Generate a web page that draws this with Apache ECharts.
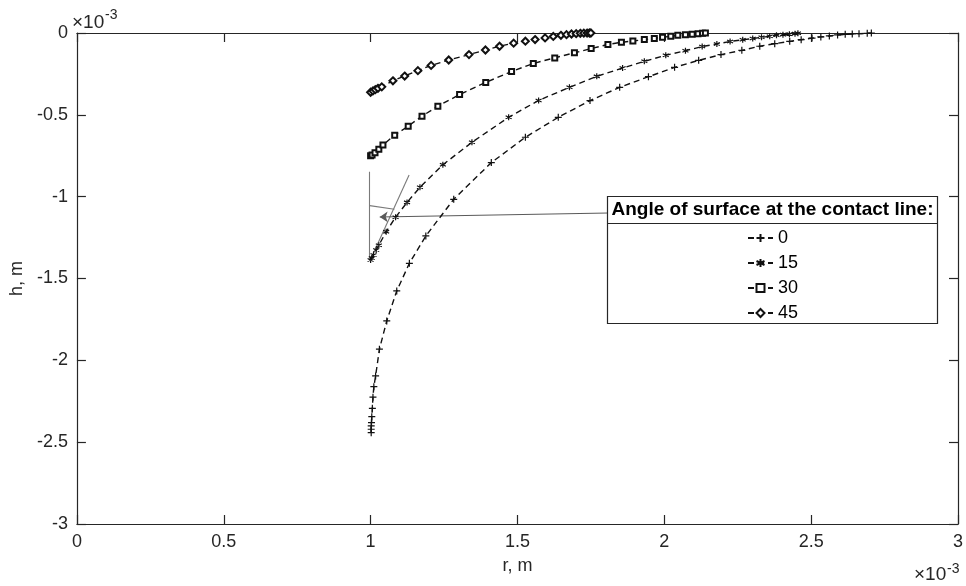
<!DOCTYPE html>
<html>
<head>
<meta charset="utf-8">
<script src="https://cdn.jsdelivr.net/npm/echarts@6/dist/echarts.min.js"></script>
<style>
  html, body { margin: 0; padding: 0; background: #fff; }
  #chart { width: 966px; height: 586px; }
</style>
</head>
<body>
<div id="chart"></div>
<script>
// Meniscus profiles h(r) for several contact angles; r and h in units of 1e-3 m.
const angleNames = ['0', '15', '30', '45'];

const r0 = [1.002, 1.002, 1.002, 1.003, 1.004, 1.006, 1.008, 1.011, 1.017, 1.030, 1.055, 1.089, 1.132,
  1.188, 1.283, 1.411, 1.527, 1.639, 1.747, 1.848, 1.946, 2.035, 2.117, 2.193, 2.264, 2.325, 2.376,
  2.427, 2.466, 2.503, 2.533, 2.562, 2.590, 2.616, 2.640, 2.663, 2.691, 2.705];
const h0 = [-2.442, -2.421, -2.401, -2.381, -2.344, -2.293, -2.225, -2.161, -2.095, -1.932, -1.759, -1.576, -1.407,
  -1.240, -1.016, -0.792, -0.637, -0.515, -0.413, -0.332, -0.267, -0.210, -0.167, -0.132, -0.106, -0.081, -0.065,
  -0.051, -0.041, -0.031, -0.024, -0.018, -0.012, -0.008, -0.006, -0.004, -0.002, 0];

const r15 = [1.000, 1.004, 1.010, 1.019, 1.028, 1.053, 1.085, 1.124, 1.168, 1.246, 1.345, 1.470, 1.572,
  1.677, 1.770, 1.858, 1.932, 2.005, 2.072, 2.129, 2.179, 2.224, 2.267, 2.301, 2.331, 2.359, 2.382,
  2.404, 2.426, 2.445, 2.455];
const h15 = [-1.387, -1.375, -1.356, -1.326, -1.297, -1.214, -1.126, -1.035, -0.943, -0.805, -0.668, -0.515, -0.412,
  -0.332, -0.265, -0.214, -0.173, -0.136, -0.108, -0.083, -0.067, -0.052, -0.041, -0.034, -0.026, -0.020, -0.014,
  -0.010, -0.007, -0.004, -0.002];

const r30 = [1.000, 1.005, 1.015, 1.028, 1.042, 1.082, 1.128, 1.175, 1.229, 1.303, 1.392, 1.480, 1.554,
  1.627, 1.694, 1.751, 1.808, 1.854, 1.893, 1.932, 1.966, 1.994, 2.022, 2.046, 2.072, 2.095, 2.115,
  2.130, 2.140];
const h30 = [-0.750, -0.745, -0.731, -0.711, -0.684, -0.624, -0.569, -0.508, -0.447, -0.376, -0.302, -0.235, -0.186,
  -0.152, -0.121, -0.095, -0.070, -0.057, -0.049, -0.040, -0.033, -0.026, -0.020, -0.014, -0.010, -0.007, -0.004,
  -0.002, 0];

const r45 = [1.000, 1.008, 1.016, 1.025, 1.038, 1.076, 1.116, 1.161, 1.206, 1.266, 1.335, 1.391, 1.439,
  1.487, 1.527, 1.560, 1.594, 1.622, 1.648, 1.667, 1.684, 1.700, 1.714, 1.726, 1.737, 1.745, 1.750];
const h45 = [-0.362, -0.354, -0.346, -0.338, -0.329, -0.292, -0.263, -0.230, -0.198, -0.165, -0.132, -0.104, -0.081,
  -0.062, -0.050, -0.040, -0.030, -0.021, -0.014, -0.010, -0.006, -0.004, -0.002, -0.001, -0.0005, 0, 0];

// Contact-angle construction at the start of the 15 degree profile, and the pointer from the legend.
const guideSegments = [
  [[0.997, -0.847], [0.997, -1.393]],
  [[0.999, -1.387], [1.131, -0.868]],
  [[0.997, -1.055], [1.081, -1.077]]
];
const pointerSegment = [[1.810, -1.100], [1.031, -1.124]];

const xRange = { min: 0, max: 3, step: 0.5 };
const yRange = { min: -3, max: 0, step: 0.5 };

const FONT = '"Liberation Sans", Arial, Helvetica, sans-serif';
const AXIS_COLOR = '#262626';

const zip = (xs, ys) => xs.map((x, i) => [x, ys[i]]);

const PLUS = 'path://M5,0L5,10M0,5L10,5';
const STAR = 'path://M5,0L5,10M0.7,2.5L9.3,7.5M0.7,7.5L9.3,2.5';

function profile(name, r, h, symbol, size) {
  return {
    name: name,
    type: 'line',
    data: zip(r, h),
    symbol: symbol,
    symbolSize: size,
    showAllSymbol: true,
    lineStyle: { color: '#111', width: 1.4, type: [6, 4] },
    itemStyle: { color: '#111', borderColor: '#111', borderWidth: 1.2 },
    emphasis: { disabled: true },
    z: 3
  };
}

function frameAxis(base, extra) {
  return Object.assign({
    type: 'value',
    min: base.min,
    max: base.max,
    interval: base.step,
    splitLine: { show: false },
    axisLine: { show: true, onZero: false, lineStyle: { color: AXIS_COLOR, width: 1.2 } },
    axisTick: { show: true, inside: true, length: 9, lineStyle: { color: AXIS_COLOR, width: 1.2 } },
    axisLabel: { show: false }
  }, extra);
}

const tickLabel = { show: true, color: AXIS_COLOR, fontSize: 18, fontFamily: FONT };

const chart = echarts.init(document.getElementById('chart'), null, { renderer: 'canvas' });

chart.setOption({
  animation: false,
  backgroundColor: '#fff',
  grid: { left: 71, right: 5, top: 33, bottom: 62, containLabel: false },
  xAxis: [
    frameAxis(xRange, {
      position: 'bottom',
      axisLabel: Object.assign({ margin: 9 }, tickLabel),
      name: 'r, m',
      nameLocation: 'middle',
      nameGap: 33,
      nameTextStyle: { color: AXIS_COLOR, fontSize: 18, fontFamily: FONT }
    }),
    frameAxis(xRange, { position: 'top' })
  ],
  yAxis: [
    frameAxis(yRange, {
      position: 'left',
      axisLabel: Object.assign({ margin: 9 }, tickLabel),
      name: 'h, m',
      nameLocation: 'middle',
      nameGap: 47,
      nameTextStyle: { color: AXIS_COLOR, fontSize: 18, fontFamily: FONT }
    }),
    frameAxis(yRange, { position: 'right' })
  ],
  legend: {
    data: angleNames,
    orient: 'vertical',
    left: 747,
    top: 229,
    itemWidth: 25,
    itemHeight: 10,
    itemGap: 7,
    padding: 0,
    selectedMode: false,
    textStyle: { color: '#000', fontSize: 18, lineHeight: 18, fontFamily: FONT },
    z: 10
  },
  graphic: [
    {
      type: 'rect',
      z: 8,
      shape: { x: 607.5, y: 196.5, width: 330, height: 127 },
      style: { fill: '#fff', stroke: AXIS_COLOR, lineWidth: 1.2 }
    },
    {
      type: 'line',
      z: 9,
      shape: { x1: 607.5, y1: 223.5, x2: 937.5, y2: 223.5 },
      style: { stroke: AXIS_COLOR, lineWidth: 1.2 }
    },
    {
      type: 'text',
      z: 9,
      x: 772.5, y: 210,
      style: {
        text: 'Angle of surface at the contact line:',
        font: 'bold 19px ' + FONT,
        fill: '#000',
        textAlign: 'center',
        textVerticalAlign: 'middle'
      }
    },
    {
      type: 'text', x: 72, y: 23,
      style: { text: '×10', font: '19px ' + FONT, fill: AXIS_COLOR, textAlign: 'left', textVerticalAlign: 'middle' }
    },
    {
      type: 'text', x: 105, y: 15,
      style: { text: '-3', font: '14px ' + FONT, fill: AXIS_COLOR, textAlign: 'left', textVerticalAlign: 'middle' }
    },
    {
      type: 'text', x: 914, y: 575,
      style: { text: '×10', font: '19px ' + FONT, fill: AXIS_COLOR, textAlign: 'left', textVerticalAlign: 'middle' }
    },
    {
      type: 'text', x: 947, y: 569,
      style: { text: '-3', font: '14px ' + FONT, fill: AXIS_COLOR, textAlign: 'left', textVerticalAlign: 'middle' }
    }
  ],
  series: [
    profile('0', r0, h0, PLUS, 7),
    profile('15', r15, h15, STAR, 6),
    profile('30', r30, h30, 'emptyRect', 5),
    profile('45', r45, h45, 'emptyDiamond', 7),
    {
      type: 'lines',
      coordinateSystem: 'cartesian2d',
      silent: true,
      symbol: 'none',
      lineStyle: { color: '#7a7a7a', width: 1.1, opacity: 1 },
      data: guideSegments.map(s => ({ coords: s })),
      z: 2
    },
    {
      type: 'lines',
      coordinateSystem: 'cartesian2d',
      silent: true,
      symbol: ['none', 'arrow'],
      symbolSize: 8,
      lineStyle: { color: '#5a5a5a', width: 1.1, opacity: 1 },
      data: [{ coords: pointerSegment }],
      z: 2
    }
  ]
});
</script>
</body>
</html>
